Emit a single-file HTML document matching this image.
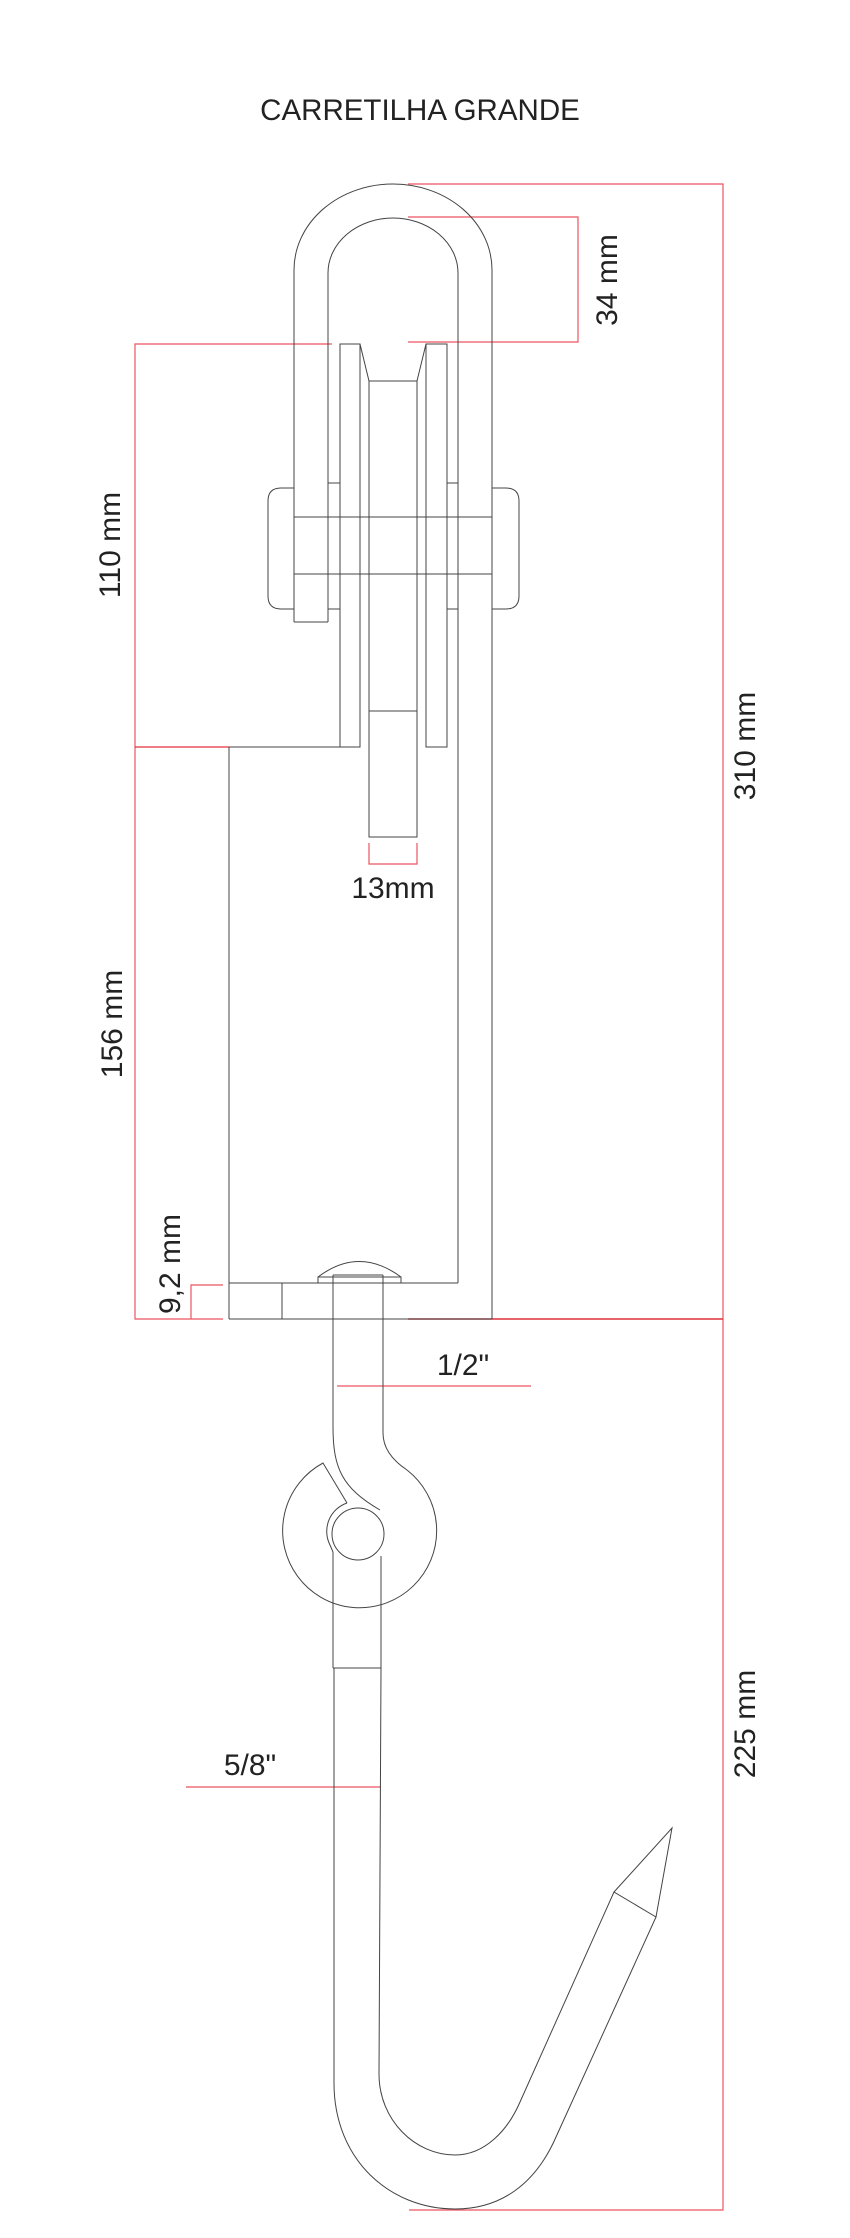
<!DOCTYPE html>
<html><head><meta charset="utf-8"><style>
html,body{margin:0;padding:0;background:#fff;}
svg{display:block;}
text{font-family:"Liberation Sans",Arial,sans-serif;fill:#222;}
</style></head><body>
<svg width="850" height="2238" viewBox="0 0 850 2238" xmlns="http://www.w3.org/2000/svg">
<text x="420" y="120" font-size="29.5" text-anchor="middle">CARRETILHA GRANDE</text>

<g fill="none" stroke="#ec5560" stroke-width="1.2">
  <polyline points="408,184 723,184 723,2210 409,2210"/>
  <line x1="408" y1="1319" x2="723" y2="1319" stroke="#e0303a" stroke-width="1.6"/>
  <polyline points="408,217 578,217 578,342 408,342"/>
  <polyline points="332,344 135,344 135,1319 223,1319"/>
  <line x1="135" y1="747" x2="229" y2="747" stroke="#e0303a"/>
  <polyline points="223,1285 191,1285 191,1319"/>
  <polyline points="369,843 369,864 417,864 417,843"/>
  <line x1="337" y1="1386" x2="531" y2="1386"/>
  <line x1="186" y1="1787" x2="381" y2="1787"/>
</g>

<g fill="none" stroke="#444" stroke-width="1">
  <!-- shackle -->
  <path d="M294,622 L294,270 A99,86 0 0 1 492,270 L492,1319"/>
  <path d="M328,622 L328,273 A65,55 0 0 1 458,273 L458,1283"/>
  <line x1="294" y1="622" x2="328" y2="622"/>
  <line x1="328" y1="483" x2="340" y2="483"/>
  <line x1="328" y1="609" x2="340" y2="609"/>
  <line x1="447" y1="483" x2="458" y2="483"/>
  <line x1="447" y1="609" x2="458" y2="609"/>
  <!-- nuts -->
  <path d="M294,488 L281,488 Q268,488 268,501 L268,596 Q268,609 281,609 L294,609"/>
  <path d="M492,488 L506,488 Q519,488 519,501 L519,596 Q519,609 506,609 L492,609"/>
  <line x1="294" y1="517" x2="492" y2="517"/>
  <line x1="294" y1="574" x2="492" y2="574"/>
  <!-- plates -->
  <rect x="340" y="344" width="20" height="403"/>
  <rect x="426" y="344" width="21" height="403"/>
  <path d="M360,344 L369,381 L417,381 L426,344"/>
  <!-- sheave -->
  <path d="M369,381 L369,837 L417,837 L417,381"/>
  <line x1="369" y1="711" x2="417" y2="711"/>
  <!-- frame -->
  <line x1="229" y1="747" x2="340" y2="747"/>
  <line x1="229" y1="747" x2="229" y2="1319"/>
  <line x1="229" y1="1283" x2="458" y2="1283"/>
  <line x1="229" y1="1319" x2="492" y2="1319"/>
  <line x1="282" y1="1283" x2="282" y2="1319"/>
  <!-- bolt head -->
  <path d="M318,1283 L318,1277 Q359,1246 401,1277 L401,1283"/>
  <line x1="318" y1="1277" x2="401" y2="1277"/>
  <line x1="333" y1="1275" x2="383" y2="1275"/>
  <!-- shank + eye -->
  <path d="M333,1275 L333,1427 C333,1468 342,1488 380,1510"/>
  <path d="M383,1275 L383,1433 C383,1448 392,1460 407,1470"/>
  <path d="M347,1503 L323,1463 A77,77 0 1 0 407,1470"/>
  <path d="M347,1503 A30,30 0 0 0 330,1545 L333,1552"/>
  <circle cx="358" cy="1534" r="26"/>
  <path d="M333,1552 L333,1668"/>
  <path d="M381,1556 L381,1668"/>
  <line x1="333" y1="1668" x2="381" y2="1668"/>
  <!-- hook -->
  <path d="M334,1668 L334,2083 C334,2160 390,2209 455,2209 C500,2209 535,2185 556,2137 L656,1917"/>
  <path d="M381,1668 L379,2074 C379,2120 415,2155 455,2155 C485,2155 508,2130 520,2102 L614,1892"/>
  <path d="M614,1892 L672,1828 L656,1917 Z"/>
</g>

<g font-size="30">
  <text transform="translate(617,280) rotate(-90)" text-anchor="middle">34 mm</text>
  <text transform="translate(120,545) rotate(-90)" text-anchor="middle">110 mm</text>
  <text transform="translate(122,1024) rotate(-90)" text-anchor="middle">156 mm</text>
  <text transform="translate(180,1264) rotate(-90)" text-anchor="middle">9,2 mm</text>
  <text transform="translate(755,746) rotate(-90)" text-anchor="middle">310 mm</text>
  <text transform="translate(755,1724) rotate(-90)" text-anchor="middle">225 mm</text>
  <text x="393" y="898" text-anchor="middle">13mm</text>
  <text x="463" y="1375" text-anchor="middle">1/2"</text>
  <text x="250" y="1775" text-anchor="middle">5/8"</text>
</g>
</svg>
</body></html>
